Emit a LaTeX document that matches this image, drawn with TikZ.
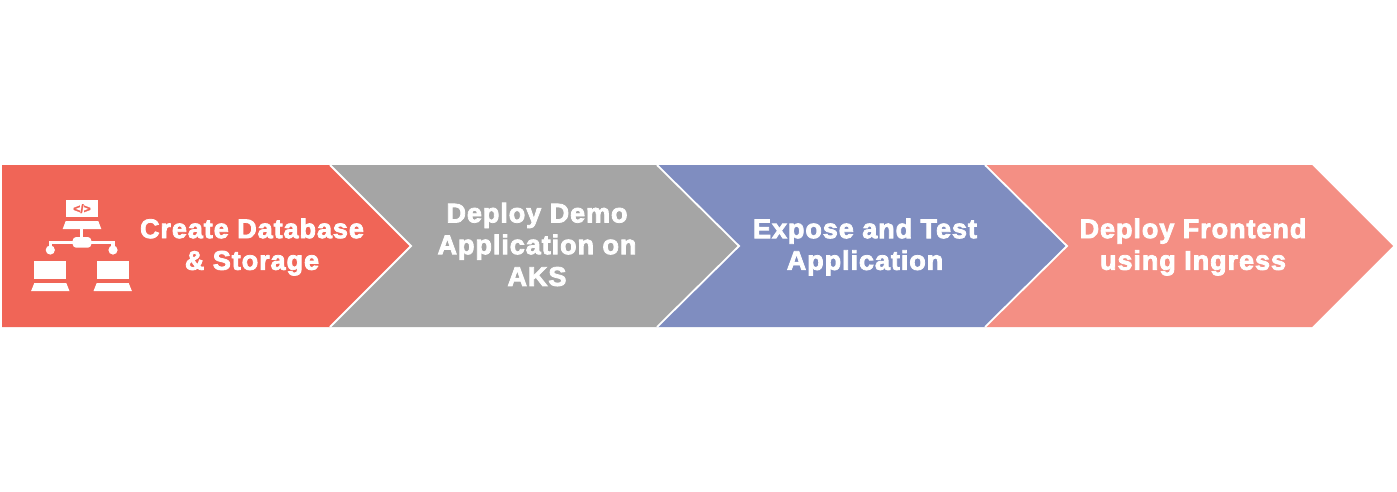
\documentclass[tikz,border=0pt]{standalone}
\usepackage{fontspec}
\setmainfont{Liberation Sans}
\newfontfamily\labelfont[LetterSpace=3.5,BoldFeatures={FakeBold=3}]{Liberation Sans}
\newfontfamily\codefont[BoldFeatures={FakeBold=2}]{Liberation Sans}

\definecolor{stepred}{HTML}{F06557}
\definecolor{stepgray}{HTML}{A5A5A5}
\definecolor{stepblue}{HTML}{7F8DC0}
\definecolor{stepsalmon}{HTML}{F48F84}

\tikzset{
	edgeline/.style={line width=1.8pt, draw=white},
	steplabel/.style={text=white, align=center, font=\labelfont\fontsize{27}{31.7}\selectfont\bfseries, inner sep=0pt},
	iconpart/.style={fill=white, draw=none},
	iconline/.style={draw=white, line width=3.2pt}
}

\begin{document}
\begin{tikzpicture}[x=1pt, y=-1pt]
	\useasboundingbox (0, 0) rectangle (1397, 491);

	% Draw chevrons
	\fill[stepsalmon] (985, 165) -- (1312, 165) -- (1393, 246) -- (1312, 327) -- (985, 327) -- (1067, 246) -- cycle;
	\fill[stepblue] (657, 165) -- (985, 165) -- (1067, 246) -- (985, 327) -- (657, 327) -- (739, 246) -- cycle;
	\fill[stepgray] (330, 165) -- (657, 165) -- (739, 246) -- (657, 327) -- (330, 327) -- (411, 246) -- cycle;
	\fill[stepred] (2, 165) -- (330, 165) -- (411, 246) -- (330, 327) -- (2, 327) -- cycle;

	% Draw white separators
	\draw[edgeline] (330, 165) -- (411, 246) -- (330, 327);
	\draw[edgeline] (657, 165) -- (739, 246) -- (657, 327);
	\draw[edgeline] (985, 165) -- (1067, 246) -- (985, 327);

	% Draw text
	\node[steplabel] (create) at (252, 247) {Create Database\\\& Storage};
	\node[steplabel] (deploy) at (537, 244.5) {Deploy Demo\\Application on\\AKS};
	\node[steplabel] (expose) at (865, 247) {Expose and Test\\Application};
	\node[steplabel] (front) at (1193, 247) {Deploy Frontend\\using Ingress};

	% Draw icon: monitor
	\fill[iconpart] (65.7, 200) rectangle (98.3, 217.3);
	\fill[iconpart] (65.7, 221) -- (98.3, 221) -- (101.3, 229) -- (62.7, 229) -- cycle;
	\node[text=stepred, font=\codefont\fontsize{12}{12}\selectfont\bfseries, inner sep=0pt] (code) at (82, 208.6) {</>};

	% Draw icon: links
	\draw[iconline] (81.7, 229) -- (81.7, 240);
	\draw[iconline] (50.3, 250) -- (50.3, 242.3) -- (113, 242.3) -- (113, 250);
	\fill[iconpart, rounded corners=3.5pt] (72.7, 237) rectangle (91.3, 247.7);
	\fill[iconpart] (50.3, 250) circle (4.6);
	\fill[iconpart] (113, 250) circle (4.6);

	% Draw icon: laptops
	\foreach \laptopx in {34.3, 96.7} {
		\fill[iconpart] (\laptopx, 261.3) rectangle ++(32, 18);
		\fill[iconpart] (\laptopx, 283) -- ++(32, 0) -- ++(3.2, 8) -- ++(-38.4, 0) -- cycle;
	}
\end{tikzpicture}
\end{document}
